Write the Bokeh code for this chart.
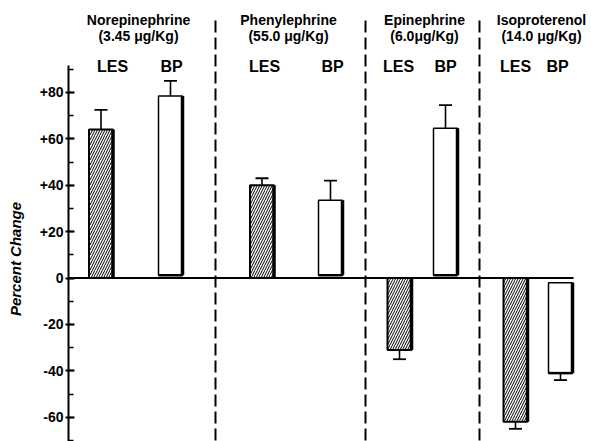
from bokeh.plotting import figure
from bokeh.models import Range1d, FixedTicker
from bokeh.core.properties import value
from bokeh.embed import file_html
from bokeh.resources import INLINE

# ---- data ----
drugs = ["Norepinephrine", "Phenylephrine", "Epinephrine", "Isoproterenol"]
doses = ["(3.45 μg/Kg)", "(55.0 μg/Kg)", "(6.0μg/Kg)", "(14.0 μg/Kg)"]
les_change = [64, 40, -31, -62]
les_sem = [8.5, 3, 4, 3]
bp_change = [78.5, 33.5, 64.5, -41]
bp_sem = [6.5, 8.5, 10, 3]
y_ticks = [-60, -40, -20, 0, 20, 40, 60, 80]
y_tick_labels = ["-60", "-40", "-20", "0", "+20", "+40", "+60", "+80"]
y_title = "Percent Change"

# ---- layout (pixel-like x units) ----
AXIS_X = 68
les_x = [100.5, 261.5, 399, 515]
bp_x = [170, 330, 445, 560]
sep_x = [215, 365, 479]
title_x = [138, 288, 424, 541]
les_lab_x = [112, 264, 398, 515]
bp_lab_x = [171, 332, 445, 557]
BW = 24
FONT = "Liberation Sans"

p = figure(width=591, height=441, output_backend="svg", toolbar_location=None,
           x_range=Range1d(0, 591), y_range=Range1d(-70.47, 119.61),
           x_axis_type=None, min_border_left=0, min_border_right=0,
           min_border_top=0, min_border_bottom=0)
p.outline_line_color = None
p.grid.visible = False
p.background_fill_color = "white"

ax = p.yaxis[0]
ax.fixed_location = AXIS_X
ax.ticker = FixedTicker(ticks=y_ticks, minor_ticks=list(range(-70, 91, 10)))
ax.major_label_overrides = {t: l for t, l in zip(y_ticks, y_tick_labels)}
ax.bounds = (-71, 91.6)
ax.axis_line_width = 2
ax.axis_line_color = "black"
ax.major_tick_line_width = 2
ax.minor_tick_line_width = 1.5
ax.major_tick_in = 6
ax.major_tick_out = 3
ax.minor_tick_in = 5
ax.minor_tick_out = 0
ax.major_label_standoff = 2
ax.major_label_text_font = FONT
ax.major_label_text_font_style = "bold"
ax.major_label_text_font_size = "14px"
ax.major_label_text_color = "black"

# y-axis title
p.text(x=[15], y=[8.2], text=[y_title], angle=1.5708, text_align="center",
       text_baseline="middle", text_font=value(FONT), text_font_style="bold italic",
       text_font_size="15px", text_color="black")

# zero line
p.segment(x0=[AXIS_X], y0=[0], x1=[573], y1=[0], line_color="black", line_width=2)

# separators
p.segment(x0=sep_x, y0=[111] * 3, x1=sep_x, y1=[-71] * 3,
          line_color="black", line_width=2, line_dash="12 5")

# LES bars (hatched)
les_top = [max(v, 0) for v in les_change]
les_bot = [min(v, 0) for v in les_change]
p.vbar(x=les_x, width=BW, top=les_top, bottom=les_bot, fill_color="white",
       line_color="black", line_width=2, hatch_pattern="/", hatch_color="black",
       hatch_scale=5, hatch_weight=1.0)
p.segment(x0=[x + BW / 2 for x in les_x], y0=les_bot,
          x1=[x + BW / 2 for x in les_x], y1=les_top, line_color="black", line_width=3.5)

# BP bars (open)
bp_top = [v if v > 0 else -2 for v in bp_change]
bp_bot = [1.2 if v > 0 else v for v in bp_change]
p.vbar(x=bp_x, width=BW, top=bp_top, bottom=bp_bot, fill_color="white",
       line_color="black", line_width=1.5)
p.segment(x0=[x + BW / 2 for x in bp_x], y0=bp_bot,
          x1=[x + BW / 2 for x in bp_x], y1=bp_top, line_color="black", line_width=3.5)
p.segment(x0=[x - BW / 2 for x in bp_x], y0=bp_bot,
          x1=[x + BW / 2 for x in bp_x], y1=bp_bot, line_color="black", line_width=2.5)

# error bars
def err(xs, vals, sems):
    tips = [v + (s if v > 0 else -s) for v, s in zip(vals, sems)]
    p.segment(x0=xs, y0=vals, x1=xs, y1=tips, line_color="black", line_width=1.6)
    p.segment(x0=[x - 6.5 for x in xs], y0=tips, x1=[x + 6.5 for x in xs], y1=tips,
              line_color="black", line_width=1.8)

err(les_x, les_change, les_sem)
err(bp_x, bp_change, bp_sem)

# texts
def txt(xs, y, labels, size):
    p.text(x=xs, y=[y] * len(xs), text=labels, text_align="center",
           text_baseline="middle", text_font=value(FONT), text_font_style="bold",
           text_font_size=size, text_color="black")

txt(title_x, 111.0, drugs, "14px")
txt(title_x, 104.1, doses, "14px")
txt(les_lab_x, 91.2, ["LES"] * 4, "16px")
txt(bp_lab_x, 91.2, ["BP"] * 4, "16px")

open("out.html", "w").write(file_html(p, INLINE))
